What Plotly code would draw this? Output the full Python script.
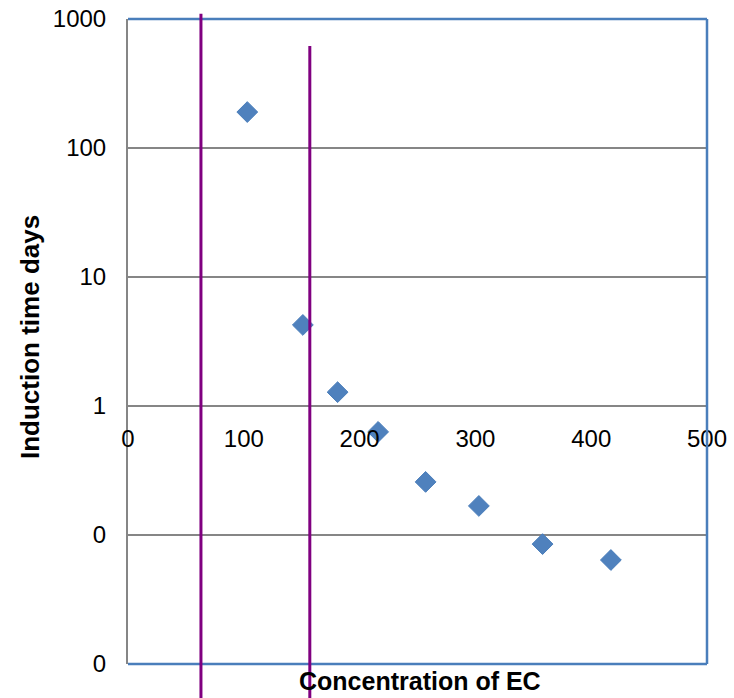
import plotly.graph_objects as go
import math

# Data
concentration = [103, 151, 181, 216, 257, 303, 358, 417]
induction_days = [190, 4.25, 1.28, 0.63, 0.258, 0.168, 0.085, 0.064]
marker_lines_x = [63, 157]
marker_lines_top = [1.008, 0.958]  # paper fraction tops of purple lines
y_tickvals = [0.01, 0.1, 1, 10, 100, 1000]
y_ticktext = ["0", "0", "1", "10", "100", "1000"]
x_tickvals = [0, 100, 200, 300, 400, 500]
x_ticktext = ["0", "100", "200", "300", "400", "500"]

W, H = 734, 698
L, R, T, B = 128, 27, 19, 34
plot_h = H - T - B
plot_w = W - L - R

FONT = "Liberation Sans, Arial, sans-serif"
BLUE = "#4A7EBB"
GRID = "#868686"
PURPLE = "#800080"

fig = go.Figure()
fig.add_trace(go.Scatter(
    x=concentration, y=induction_days, mode="markers",
    marker=dict(symbol="diamond", size=16, color="#4F81BD",
                line=dict(color="#4A7EBB", width=1)),
    showlegend=False, xaxis="x", yaxis="y"))
# invisible trace for crossing x axis
fig.add_trace(go.Scatter(x=[0, 500], y=[1, 1], mode="markers",
                         marker=dict(opacity=0), showlegend=False,
                         hoverinfo="skip", xaxis="x2", yaxis="y"))

cross_pos = (math.log10(1) - (-2)) / 5.0

fig.update_layout(
    width=W, height=H,
    margin=dict(l=L, r=R, t=T, b=B, autoexpand=False),
    paper_bgcolor="white", plot_bgcolor="white",
    font=dict(family=FONT, size=24, color="black"),
    xaxis=dict(range=[0, 500], showticklabels=False, showgrid=False,
               zeroline=False, showline=False, ticks="", automargin=False),
    xaxis2=dict(range=[0, 500], overlaying="x", anchor="free", position=cross_pos,
                side="bottom", showgrid=False, zeroline=False,
                showline=True, linecolor=GRID, linewidth=2,
                tickvals=x_tickvals, ticktext=x_ticktext,
                ticks="", ticklabelstandoff=11, automargin=False,
                tickfont=dict(family=FONT, size=24, color="black")),
    yaxis=dict(type="log", range=[-2, 3], tickvals=y_tickvals, ticktext=y_ticktext,
               showgrid=True, gridcolor=GRID, gridwidth=2,
               showline=True, linecolor=GRID, linewidth=2,
               zeroline=False, ticks="", ticklabelstandoff=15, automargin=False,
               tickfont=dict(family=FONT, size=24, color="black")),
)

shapes = []
# plot area border (top, right, bottom) in blue
shapes.append(dict(type="line", xref="paper", yref="paper", x0=0, x1=1, y0=1, y1=1,
                   line=dict(color=BLUE, width=2.5), layer="above"))
shapes.append(dict(type="line", xref="paper", yref="paper", x0=1, x1=1, y0=0, y1=1,
                   line=dict(color=BLUE, width=2.5), layer="above"))
shapes.append(dict(type="line", xref="paper", yref="paper", x0=0, x1=1, y0=0, y1=0,
                   line=dict(color=BLUE, width=2.5), layer="above"))
for xv, top in zip(marker_lines_x, marker_lines_top):
    shapes.append(dict(type="line", xref="x", yref="paper", x0=xv, x1=xv,
                       y0=-0.1, y1=top, line=dict(color=PURPLE, width=3), layer="above"))
fig.update_layout(shapes=shapes)

fig.add_annotation(text="<b>Induction time days</b>", textangle=-90,
                   xref="paper", yref="paper",
                   x=(30 - L) / plot_w, y=(H - B - 337) / plot_h,
                   xanchor="center", yanchor="middle", showarrow=False,
                   font=dict(family=FONT, size=26, color="black"))
fig.add_annotation(text="<b>Concentration of EC</b>",
                   xref="paper", yref="paper",
                   x=(420 - L) / plot_w, y=-(681 - (H - B)) / plot_h,
                   xanchor="center", yanchor="middle", showarrow=False,
                   font=dict(family=FONT, size=25, color="black"))

fig.write_html("out.html")
